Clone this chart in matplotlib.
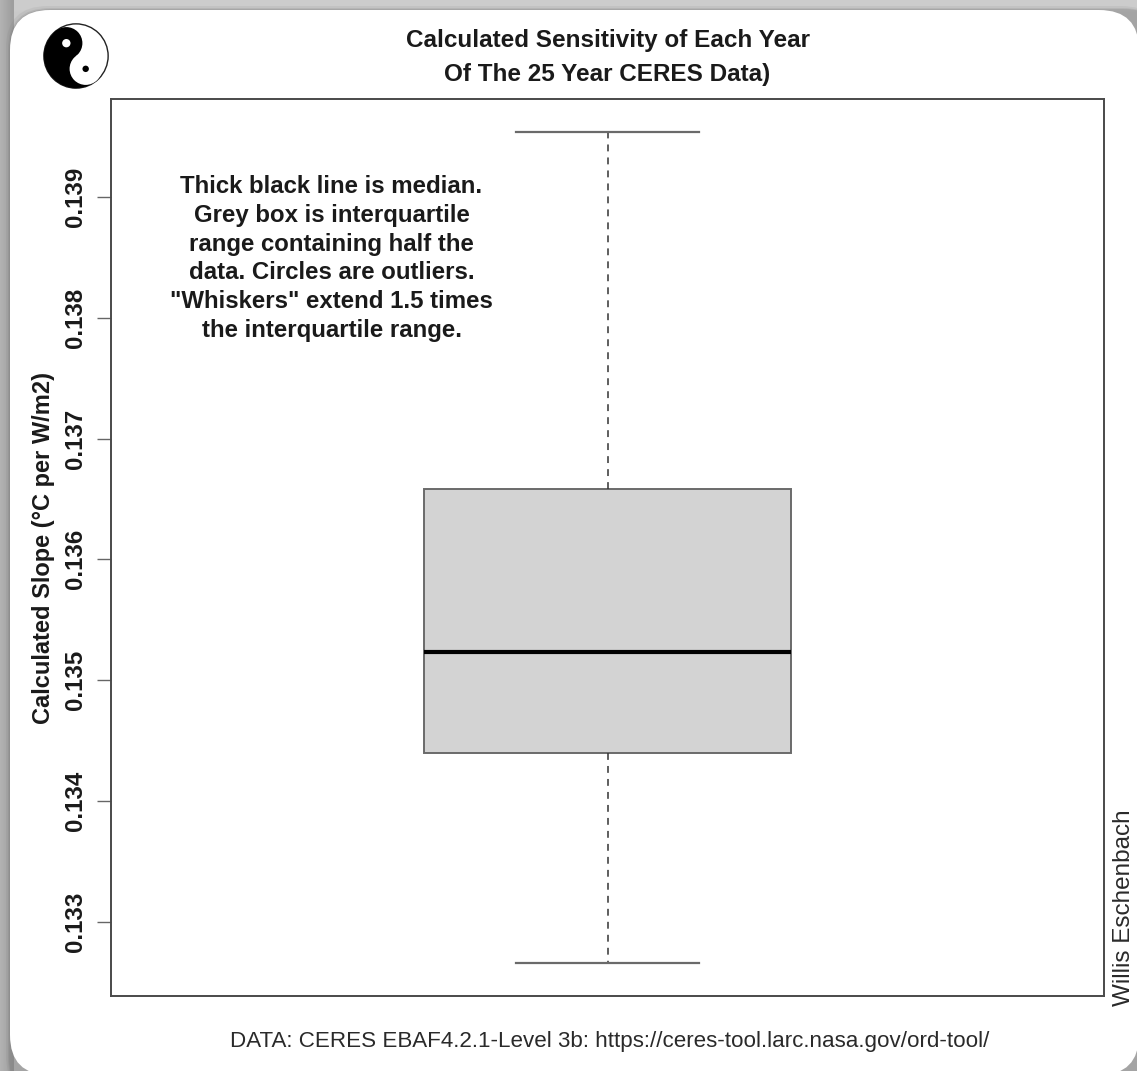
import numpy as np
import matplotlib
matplotlib.use("Agg")
import matplotlib.pyplot as plt
from matplotlib.patches import FancyBboxPatch, Wedge, Circle

plt.rcParams["font.family"] = ["Liberation Sans", "DejaVu Sans"]

# ---- data -------------------------------------------------------------
# five-number summary of the yearly sensitivity estimates
lower_whisker = 0.132659
first_quartile = 0.134395
median = 0.135231
third_quartile = 0.136580
upper_whisker = 0.139536

y_ticks = [0.133, 0.134, 0.135, 0.136, 0.137, 0.138, 0.139]
y_tick_labels = ["0.133", "0.134", "0.135", "0.136", "0.137", "0.138", "0.139"]

title_lines = ["Calculated Sensitivity of Each Year", "Of The 25 Year CERES Data)"]
note_lines = [
    "Thick black line is median.",
    "Grey box is interquartile",
    "range containing half the",
    "data. Circles are outliers.",
    "\"Whiskers\" extend 1.5 times",
    "the interquartile range.",
]
y_label = "Calculated Slope (°C per W/m2)"
source_text = "DATA: CERES EBAF4.2.1-Level 3b: https://ceres-tool.larc.nasa.gov/ord-tool/"
author_text = "Willis Eschenbach"

# ---- figure ---------------------------------------------------------------
W, H = 1137, 1071
fig = plt.figure(figsize=(W / 100, H / 100), dpi=100)


def fx(px):
    return px / W


def fy(py):
    return 1 - py / H


# background frame with a rounded white card
bg = fig.add_axes([0, 0, 1, 1], zorder=-10)
bg.set_xlim(0, W)
bg.set_ylim(H, 0)
bg.axis("off")
xx = np.arange(W)[None, :]
yy = np.arange(H)[:, None]
shade = np.full((H, W), 0.80)
shade = np.minimum(shade, 0.84 - 0.05 * np.clip(yy / 12, 0, 1))
shade = np.where(xx < 14, 0.70 - 0.08 * np.clip(xx / 12, 0, 1), shade)
bg.imshow(np.dstack([shade] * 3), extent=(0, W, H, 0), aspect="auto")
for off, a in [(4, 0.10), (2, 0.15), (1, 0.2)]:
    bg.add_patch(FancyBboxPatch((10 - off, 10 - off), W + 20, H + 20,
                                boxstyle="round,pad=0,rounding_size=42",
                                facecolor="#6e6e6e", edgecolor="none", alpha=a))
bg.add_patch(FancyBboxPatch((10, 10), W - 8, H - 6,
                            boxstyle="round,pad=0,rounding_size=40",
                            facecolor="white", edgecolor="none"))

# small yin-yang emblem in the top-left corner
logo = fig.add_axes([fx(40), fy(92), fx(72), 72 / H])
logo.set_xlim(-1.12, 1.12)
logo.set_ylim(-1.12, 1.12)
logo.set_aspect("equal")
logo.axis("off")
ang = 127.0
u = np.array([np.cos(np.radians(ang)), np.sin(np.radians(ang))])
logo.add_patch(Circle((0, 0), 1.0, facecolor="white", edgecolor="#222", lw=1.0))
logo.add_patch(Wedge((0, 0), 1.0, ang, ang + 180, facecolor="black", edgecolor="none"))
logo.add_patch(Circle(0.5 * u, 0.5, facecolor="black", edgecolor="none"))
logo.add_patch(Circle(-0.5 * u, 0.5, facecolor="white", edgecolor="none"))
logo.add_patch(Circle(0.5 * u, 0.13, facecolor="white", edgecolor="none"))
logo.add_patch(Circle(-0.5 * u, 0.10, facecolor="black", edgecolor="none"))

# ---- main panel --------------------------------------------------------
left, right, top, bottom = 111, 1104, 99, 996
ax = fig.add_axes([fx(left), fy(bottom), fx(right - left), (bottom - top) / H])
ax.set_facecolor("white")

stats = [dict(whislo=lower_whisker, q1=first_quartile, med=median,
              q3=third_quartile, whishi=upper_whisker, fliers=[])]
ax.bxp(stats, positions=[1], widths=0.4, capwidths=0.2, showfliers=False,
       patch_artist=True,
       boxprops=dict(facecolor="#d3d3d3", edgecolor="#6a6a6a", linewidth=1.4),
       medianprops=dict(color="black", linewidth=3.0, solid_capstyle="butt"),
       whiskerprops=dict(color="#333333", linestyle=(0, (4.5, 4)), linewidth=1.1),
       capprops=dict(color="#6a6a6a", linewidth=1.6))

ax.set_xlim(0.46, 1.54)
ax.set_ylim(0.132384, 0.139811)
ax.set_xticks([])
ax.set_yticks(y_ticks, y_tick_labels)
ax.tick_params(axis="y", length=10, width=1.0, color="#666666", pad=10.8,
               labelsize=17.3)
plt.setp(ax.get_yticklabels(), rotation=90, rotation_mode="anchor",
         ha="center", va="baseline", fontweight="bold", color="#1a1a1a")
for sp in ax.spines.values():
    sp.set_color("#4a4a4a")
    sp.set_linewidth(1.4)

# ---- text --------------------------------------------------------------
for i, line in enumerate(title_lines):
    fig.text(fx(607.5), fy(47.5 + 34 * i), line, ha="center", va="baseline",
             fontsize=17.5, fontweight="bold", color="#1a1a1a")

for i, line in enumerate(note_lines):
    fig.text(fx(331.5), fy(193 + 28.8 * i), line, ha="center", va="baseline",
             fontsize=17.3, fontweight="bold", color="#1a1a1a")

fig.text(fx(50), fy(547.5), y_label, rotation=90, rotation_mode="anchor",
         ha="center", va="baseline", fontsize=17.0, fontweight="bold",
         color="#1a1a1a")

fig.text(fx(610), fy(1047), source_text, ha="center", va="baseline",
         fontsize=16.1, color="#2a2a2a")

fig.text(fx(1130), fy(1006), author_text, rotation=90, rotation_mode="anchor",
         ha="left", va="baseline", fontsize=17.5, color="#2a2a2a")

fig.savefig("out.png", dpi=100)
